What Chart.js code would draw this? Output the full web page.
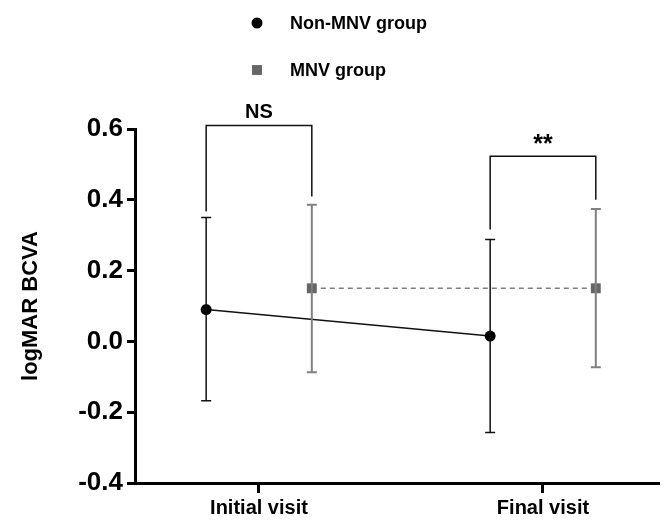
<!DOCTYPE html>
<html lang="en">
<head>
    <meta charset="UTF-8">
    <title>logMAR BCVA</title>
    <script src="https://cdn.jsdelivr.net/npm/chart.js"></script>
    <style>
        body { margin: 0; background: #fff; }
    </style>
</head>
<body>
    <canvas id="bcvaChart" width="665" height="521"></canvas>

    <script>
        // values
        const visits = ['Initial visit', 'Final visit'];
        const nonMnvMean = [0.09, 0.015];
        const nonMnvUpper = [0.35, 0.288];
        const nonMnvLower = [-0.168, -0.257];
        const mnvMean = [0.15, 0.15];
        const mnvUpper = [0.386, 0.374];
        const mnvLower = [-0.087, -0.073];
        const yTicks = [0.6, 0.4, 0.2, 0.0, -0.2, -0.4];

        // significance brackets: label, top of bracket, left leg end, right leg end
        const sigLabels = ['NS', '**'];
        const sigTop = [0.61, 0.523];
        const sigLeft = [0.367, 0.316];
        const sigRight = [0.409, 0.40];

        const shift = 0.186;   // dodge of the two groups around each visit
        const font = "'Liberation Sans', Arial, sans-serif";
        const black = '#000000';
        const grey = '#808080';
        const greyMark = '#666666';

        const pts = (means, dx) => means.map((v, i) => ({x: i + dx, y: v}));

        const bracketSets = sigLabels.map((lab, i) => ({
            label: lab,
            data: [
                {x: i - shift, y: sigLeft[i]},
                {x: i - shift, y: sigTop[i]},
                {x: i + shift, y: sigTop[i]},
                {x: i + shift, y: sigRight[i]}
            ],
            borderColor: '#111',
            borderWidth: 1.5,
            pointRadius: 0,
            fill: false
        }));

        const errorBars = {
            id: 'errorBars',
            afterDatasetsDraw(chart) {
                const ctx = chart.ctx;
                const xs = chart.scales.x, ys = chart.scales.y;
                const groups = [
                    {dx: -shift, hi: nonMnvUpper, lo: nonMnvLower, color: '#111', w: 1.5},
                    {dx: shift, hi: mnvUpper, lo: mnvLower, color: grey, w: 2}
                ];
                ctx.save();
                groups.forEach(g => {
                    ctx.strokeStyle = g.color;
                    ctx.lineWidth = g.w;
                    g.hi.forEach((h, i) => {
                        const x = xs.getPixelForValue(i + g.dx);
                        const y1 = ys.getPixelForValue(h);
                        const y2 = ys.getPixelForValue(g.lo[i]);
                        ctx.beginPath();
                        ctx.moveTo(x, y1); ctx.lineTo(x, y2);
                        ctx.moveTo(x - 5, y1); ctx.lineTo(x + 5, y1);
                        ctx.moveTo(x - 5, y2); ctx.lineTo(x + 5, y2);
                        ctx.stroke();
                    });
                });
                ctx.restore();
            }
        };

        const annotations = {
            id: 'annotations',
            afterDraw(chart) {
                const ctx = chart.ctx;
                const xs = chart.scales.x, ys = chart.scales.y;
                ctx.save();
                ctx.fillStyle = black;
                ctx.textAlign = 'center';
                ctx.textBaseline = 'bottom';
                sigLabels.forEach((lab, i) => {
                    ctx.font = (lab === '**' ? 'bold 25px ' : 'bold 20px ') + font;
                    const off = lab === '**' ? -1 : 3;
                    ctx.fillText(lab, xs.getPixelForValue(i), ys.getPixelForValue(sigTop[i]) - off);
                });

                // legend, stacked at the top
                const items = [
                    {text: 'Non-MNV group', style: 'circle', color: black, y: 23},
                    {text: 'MNV group', style: 'rect', color: greyMark, y: 70}
                ];
                ctx.textAlign = 'left';
                ctx.textBaseline = 'middle';
                ctx.font = 'bold 18px ' + font;
                items.forEach(it => {
                    ctx.fillStyle = it.color;
                    Chart.helpers.drawPoint(ctx, {pointStyle: it.style, radius: it.style === 'rect' ? 7 : 5.5, borderWidth: 0}, 257, it.y);
                    ctx.fillStyle = black;
                    ctx.fillText(it.text, 290, it.y + 1);
                });
                ctx.restore();
            }
        };

        new Chart(document.getElementById('bcvaChart'), {
            type: 'line',
            data: {
                datasets: [
                    {
                        label: 'Non-MNV group',
                        data: pts(nonMnvMean, -shift),
                        borderColor: '#111',
                        backgroundColor: black,
                        borderWidth: 1.5,
                        pointStyle: 'circle',
                        pointRadius: 5.5,
                        pointBorderWidth: 0,
                        fill: false
                    },
                    {
                        label: 'MNV group',
                        data: pts(mnvMean, shift),
                        borderColor: grey,
                        backgroundColor: greyMark,
                        borderWidth: 1.5,
                        borderDash: [5, 4],
                        pointStyle: 'rect',
                        pointRadius: 7,
                        pointBorderWidth: 0,
                        fill: false
                    },
                    ...bracketSets
                ]
            },
            options: {
                responsive: false,
                animation: false,
                clip: false,
                layout: {padding: {top: 129, right: 0, bottom: 0, left: 0}},
                plugins: {
                    legend: {display: false},
                    tooltip: {enabled: false}
                },
                scales: {
                    x: {
                        type: 'linear',
                        min: -0.4366,
                        max: 1.405,
                        afterBuildTicks: s => { s.ticks = visits.map((v, i) => ({value: i})); },
                        afterFit: s => { s.height = 38; },
                        ticks: {
                            callback: v => visits[v],
                            color: black,
                            font: {family: font, size: 20, weight: 'bold'},
                            padding: 3,
                            maxRotation: 0
                        },
                        grid: {drawOnChartArea: false, drawTicks: true, tickLength: 10, color: black, lineWidth: 3},
                        border: {color: black, width: 3}
                    },
                    y: {
                        min: -0.4,
                        max: 0.6,
                        afterBuildTicks: s => { s.ticks = yTicks.map(v => ({value: v})); },
                        afterFit: s => { s.width = 135; },
                        ticks: {
                            callback: v => v.toFixed(1),
                            color: black,
                            font: {family: font, size: 26, weight: 'bold'},
                            padding: 4
                        },
                        grid: {drawOnChartArea: false, drawTicks: true, tickLength: 8, color: black, lineWidth: 3},
                        border: {color: black, width: 3},
                        title: {
                            display: true,
                            text: 'logMAR BCVA',
                            color: black,
                            font: {family: font, size: 22, weight: 'bold'},
                            padding: {top: 18, bottom: 0}
                        }
                    }
                }
            },
            plugins: [errorBars, annotations]
        });
    </script>
</body>
</html>
